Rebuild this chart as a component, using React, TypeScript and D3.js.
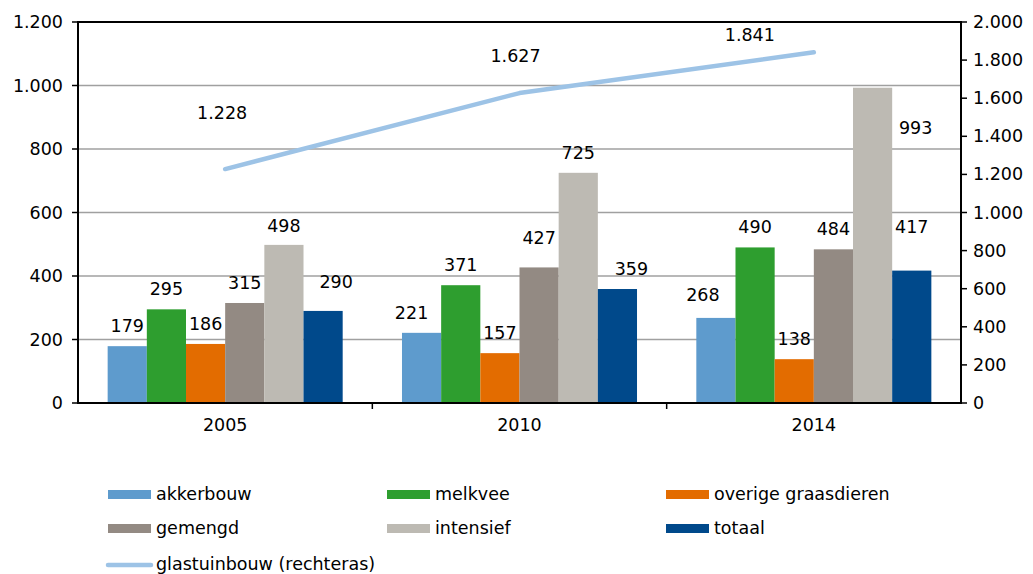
import React from "react";
import * as d3 from "d3";

const years = ["2005", "2010", "2014"];
const seriesNames = ["akkerbouw", "melkvee", "overige graasdieren", "gemengd", "intensief", "totaal"];
const akkerbouw = [179, 221, 268];
const melkvee = [295, 371, 490];
const overige = [186, 157, 138];
const gemengd = [315, 427, 484];
const intensief = [498, 725, 993];
const totaal = [290, 359, 417];
const glastuinbouw = [1228, 1627, 1841];
const leftTicks = [0, 200, 400, 600, 800, 1000, 1200];
const rightTicks = [0, 200, 400, 600, 800, 1000, 1200, 1400, 1600, 1800, 2000];

const colors = ["#5e9bcd", "#2e9e2f", "#e36c00", "#938a83", "#bdbab3", "#00498b"];
const lineColor = "#9dc3e6";

// label nudges (dx, dy from bar top) replicating the original placement
const barLabelDx = [
  [0, -10, -13],
  [0, 0, 0],
  [0, 0, 0],
  [0, 0, 0],
  [0, 0, 43],
  [13, 14, 0],
];
const barLabelDy = [
  [-20, -20, -23],
  [-20, -20, -20],
  [-20, -20, -20],
  [-20, -29, -20],
  [-19, -20, 40],
  [-29, -20, -44],
];
const lineLabelDx = [-3, -4, -64];
const lineLabelDy = [-56, -37, -17];

const fmt = (v: number) => d3.format(",")(v).replace(/,/g, ".");

export default function App() {
  const W = 1033, H = 574;
  const left = 78, right = 961, top = 22, bottom = 403;
  const data = [akkerbouw, melkvee, overige, gemengd, intensief, totaal];
  const x0 = d3.scaleBand<string>().domain(years).range([left, right]).paddingInner(0).paddingOuter(0);
  const x1 = d3.scaleBand<string>().domain(seriesNames).range([0, x0.bandwidth()]).paddingOuter(0.757).paddingInner(0);
  const yL = d3.scaleLinear().domain([0, 1200]).range([bottom, top]);
  const yR = d3.scaleLinear().domain([0, 2000]).range([bottom, top]);
  const font = "'DejaVu Sans', Verdana, sans-serif";
  const fs = 17.5;
  const lineGen = d3.line<number>()
    .x((_, i) => (x0(years[i]) as number) + x0.bandwidth() / 2)
    .y((d) => yR(d));

  const legendCols = [108, 387, 666];
  const legendRows = [494, 528];

  return (
    <svg width={W} height={H} style={{ position: "absolute", left: 0, top: 0, fontFamily: font }}>
      <rect width={W} height={H} fill="#fff" />
      {leftTicks.filter((t) => t > 0 && t < 1200).map((t) => (
        <line key={t} x1={left} x2={right} y1={yL(t)} y2={yL(t)} stroke="#a0a0a0" strokeWidth={1.5} />
      ))}
      {data.map((vals, s) =>
        vals.map((v, i) => {
          const bx = (x0(years[i]) as number) + (x1(seriesNames[s]) as number);
          return (
            <rect key={`${s}-${i}`} x={bx} y={yL(v)} width={x1.bandwidth()} height={yL(0) - yL(v)} fill={colors[s]} />
          );
        })
      )}
      {data.map((vals, s) =>
        vals.map((v, i) => {
          const cx = (x0(years[i]) as number) + (x1(seriesNames[s]) as number) + x1.bandwidth() / 2;
          return (
            <text key={`l${s}-${i}`} x={cx + barLabelDx[s][i]} y={yL(v) + barLabelDy[s][i]}
              fontSize={fs} textAnchor="middle" dominantBaseline="central" fill="#000">{v}</text>
          );
        })
      )}
      {/* axes */}
      <line x1={left} x2={right} y1={top} y2={top} stroke="#000" strokeWidth={2} />
      <line x1={left} x2={left} y1={top - 1} y2={bottom + 1} stroke="#000" strokeWidth={2} />
      <line x1={right} x2={right} y1={top - 1} y2={bottom + 1} stroke="#000" strokeWidth={2} />
      <line x1={left - 1} x2={right + 1} y1={bottom} y2={bottom} stroke="#000" strokeWidth={2} />
      {leftTicks.map((t) => (
        <g key={`lt${t}`}>
          <line x1={left - 6} x2={left} y1={yL(t)} y2={yL(t)} stroke="#000" strokeWidth={1.5} />
          <text x={left - 15} y={yL(t)} fontSize={fs} textAnchor="end" dominantBaseline="central">{fmt(t)}</text>
        </g>
      ))}
      {rightTicks.map((t) => (
        <g key={`rt${t}`}>
          <line x1={right} x2={right + 6} y1={yR(t)} y2={yR(t)} stroke="#000" strokeWidth={1.5} />
          <text x={right + 12} y={yR(t)} fontSize={fs} textAnchor="start" dominantBaseline="central">{fmt(t)}</text>
        </g>
      ))}
      {years.map((yv, i) => (
        <g key={`c${yv}`}>
          {i > 0 && <line x1={x0(yv) as number} x2={x0(yv) as number} y1={bottom} y2={bottom + 6} stroke="#000" strokeWidth={1.5} />}
          <text x={(x0(yv) as number) + x0.bandwidth() / 2} y={425} fontSize={fs} textAnchor="middle" dominantBaseline="central">{yv}</text>
        </g>
      ))}
      <path d={lineGen(glastuinbouw) || ""} fill="none" stroke={lineColor} strokeWidth={4.5} strokeLinecap="round" strokeLinejoin="round" />
      {glastuinbouw.map((v, i) => (
        <text key={`g${i}`} x={(x0(years[i]) as number) + x0.bandwidth() / 2 + lineLabelDx[i]} y={yR(v) + lineLabelDy[i]}
          fontSize={fs} textAnchor="middle" dominantBaseline="central">{fmt(v)}</text>
      ))}
      {/* legend */}
      {seriesNames.map((n, s) => {
        const lx = legendCols[s % 3];
        const ly = legendRows[Math.floor(s / 3)];
        return (
          <g key={`lg${n}`}>
            <rect x={lx} y={ly - 4} width={43} height={9} fill={colors[s]} />
            <text x={lx + 48} y={ly} fontSize={fs} dominantBaseline="central">{n}</text>
          </g>
        );
      })}
      <line x1={108} x2={151} y1={565} y2={565} stroke={lineColor} strokeWidth={4.5} strokeLinecap="round" />
      <text x={156} y={564} fontSize={fs} dominantBaseline="central">glastuinbouw (rechteras)</text>
    </svg>
  );
}
